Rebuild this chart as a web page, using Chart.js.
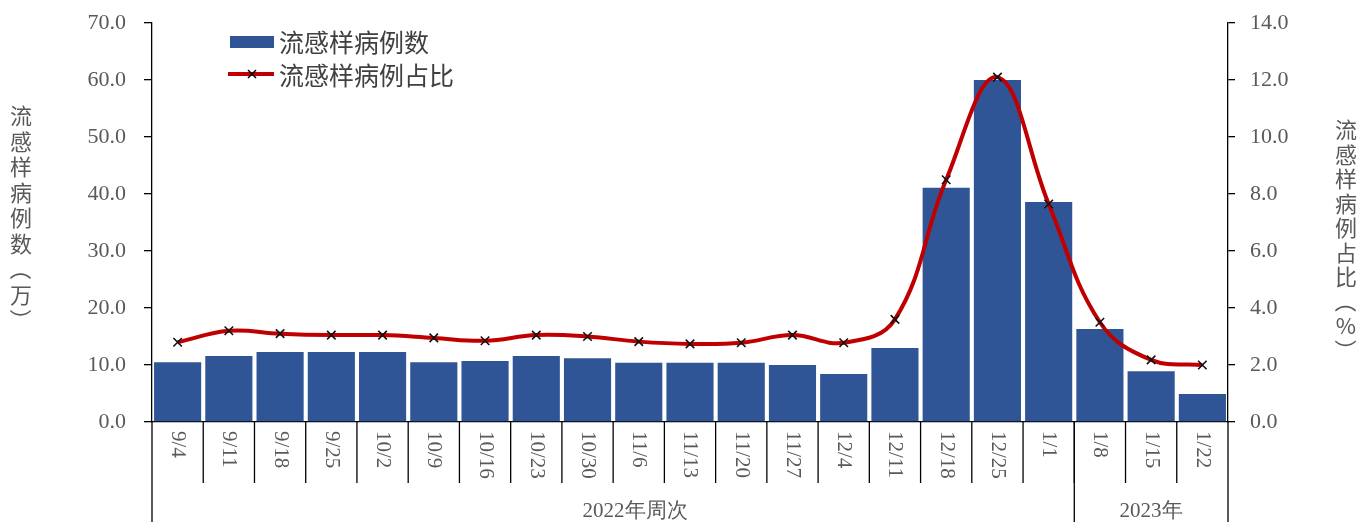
<!DOCTYPE html>
<html>
<head>
<meta charset="utf-8">
<script src="https://cdn.jsdelivr.net/npm/chart.js@4"></script>
<style>
  html, body { margin: 0; padding: 0; background: #fff; }
  #wrap { width: 1372px; height: 522px; }
</style>
</head>
<body>
<div id="wrap"><canvas id="fluChart"></canvas></div>
<script>
const weeks = ["9/4", "9/11", "9/18", "9/25", "10/2", "10/9", "10/16", "10/23", "10/30",
  "11/6", "11/13", "11/20", "11/27", "12/4", "12/11", "12/18", "12/25", "1/1", "1/8", "1/15", "1/22"];
const iliCases = [10.5, 11.6, 12.3, 12.3, 12.3, 10.5, 10.7, 11.6, 11.2,
  10.4, 10.4, 10.4, 10.0, 8.4, 13.0, 41.1, 60.0, 38.6, 16.3, 8.9, 4.9];
const iliPercent = [2.8, 3.2, 3.1, 3.05, 3.05, 2.95, 2.85, 3.05, 3.0,
  2.82, 2.74, 2.78, 3.05, 2.78, 3.6, 8.5, 12.1, 7.65, 3.5, 2.18, 2.0];
// groups of the week axis: label + how many weeks
const yearGroups = [["2022年周次", 18], ["2023年", 3]];
const leftTitle = "流感样病例数（万）";
const rightTitle = "流感样病例占比（%）";

const BLUE = "#2f5597";
const RED = "#c00000";
const GREY = "#595959";
const SERIF = "'Liberation Serif', 'DejaVu Serif', serif";
const CJK = "'Noto Sans CJK SC', 'Noto Sans', sans-serif";

// one character per line, brackets turned like in vertical text
function drawStacked(c, text, x, y0, gap) {
  Array.from(text).forEach((ch, i) => {
    const y = y0 + i * gap;
    if (ch === "（" || ch === "）") {
      c.save();
      c.translate(x, y);
      c.rotate(Math.PI / 2);
      c.fillText(ch, 0, 0);
      c.restore();
    } else {
      c.fillText(ch, x, y);
    }
  });
}

// y axes: don't let the half-height of the top label push the plot down
function fixWidth(w) {
  return function (scale) {
    scale.width = w;
    scale.paddingTop = 0;
    scale.paddingBottom = 0;
  };
}

// draws rotated week labels, separators, year groups, stacked axis titles, legend
const decorations = {
  id: "decorations",
  afterDraw(chart) {
    const c = chart.ctx;
    const x = chart.scales.x;
    const area = chart.chartArea;
    const step = (area.right - area.left) / weeks.length;

    c.save();
    c.strokeStyle = "#000";
    c.lineWidth = 1.3;

    // separators between weeks
    for (let i = 1; i < weeks.length; i++) {
      const px = area.left + i * step;
      c.beginPath();
      c.moveTo(px, area.bottom);
      c.lineTo(px, area.bottom + 61);
      c.stroke();
    }
    // group boundaries go all the way down
    let idx = 0;
    const bounds = [0];
    yearGroups.forEach(g => { idx += g[1]; bounds.push(idx); });
    bounds.forEach(b => {
      const px = area.left + b * step;
      c.beginPath();
      c.moveTo(px, area.bottom);
      c.lineTo(px, chart.height);
      c.stroke();
    });

    // week labels, rotated clockwise
    c.fillStyle = GREY;
    c.font = "21px " + SERIF;
    c.textAlign = "left";
    c.textBaseline = "middle";
    weeks.forEach((w, i) => {
      const px = x.getPixelForValue(i);
      c.save();
      c.translate(px, area.bottom + 9);
      c.rotate(Math.PI / 2);
      c.fillText(w, 0, 0);
      c.restore();
    });

    // year group labels
    c.font = "21px " + SERIF;
    c.textAlign = "center";
    const groupX = [635, 1151];
    yearGroups.forEach((g, i) => {
      c.fillText(g[0], groupX[i], 511);
    });

    // stacked vertical titles
    c.font = "22px " + CJK;
    c.fillStyle = GREY;
    drawStacked(c, leftTitle, 21, 116, 25.5);
    drawStacked(c, rightTitle, 1346, 130, 24.5);

    // legend
    c.fillStyle = BLUE;
    c.fillRect(230, 36, 44, 12);
    c.strokeStyle = RED;
    c.lineWidth = 4;
    c.beginPath();
    c.moveTo(228, 74);
    c.lineTo(274, 74);
    c.stroke();
    c.strokeStyle = "#000";
    c.lineWidth = 1.5;
    c.beginPath();
    c.moveTo(248, 70); c.lineTo(256, 78);
    c.moveTo(256, 70); c.lineTo(248, 78);
    c.stroke();
    c.fillStyle = "#404040";
    c.font = "25px " + CJK;
    c.textAlign = "left";
    c.fillText(chart.data.datasets[1].label, 279, 42);
    c.fillText(chart.data.datasets[0].label, 279, 75);
    c.restore();
  }
};

const ctx = document.getElementById("fluChart");

new Chart(ctx, {
  data: {
    labels: weeks,
    datasets: [
      {
        type: "line",
        label: "流感样病例占比",
        data: iliPercent,
        yAxisID: "y1",
        borderColor: RED,
        borderWidth: 4,
        tension: 0.4,
        pointStyle: "crossRot",
        pointRadius: 6,
        pointBorderColor: "#111",
        pointBorderWidth: 1.6,
        order: 0,
      },
      {
        type: "bar",
        label: "流感样病例数",
        data: iliCases,
        yAxisID: "y",
        backgroundColor: BLUE,
        barPercentage: 0.92,
        categoryPercentage: 1.0,
        order: 1,
      },
    ],
  },
  options: {
    responsive: true,
    maintainAspectRatio: false,
    animation: false,
    layout: { padding: { top: 23, left: 0, right: 0, bottom: 0 } },
    plugins: {
      legend: { display: false },
      tooltip: { enabled: false },
    },
    scales: {
      x: {
        grid: { display: false, drawTicks: false },
        border: { color: "#000", width: 1.3 },
        ticks: { display: false },
        afterFit(scale) { scale.height = 100; },
      },
      y: {
        position: "left",
        min: 0,
        max: 70,
        grid: { drawOnChartArea: false, color: "#000", tickLength: 8, lineWidth: 1.3 },
        border: { color: "#000", width: 1.3 },
        ticks: {
          stepSize: 10,
          padding: 18,
          color: GREY,
          font: { family: SERIF, size: 22 },
          callback: v => v.toFixed(1),
        },
        afterFit: fixWidth(152),
      },
      y1: {
        position: "right",
        min: 0,
        max: 14,
        grid: { drawOnChartArea: false, color: "#000", tickLength: 7, lineWidth: 1.3 },
        border: { color: "#000", width: 1.3 },
        ticks: {
          stepSize: 2,
          padding: 15,
          color: GREY,
          font: { family: SERIF, size: 22 },
          callback: v => v.toFixed(1),
        },
        afterFit: fixWidth(144),
      },
    },
  },
  plugins: [decorations],
});
</script>
</body>
</html>
